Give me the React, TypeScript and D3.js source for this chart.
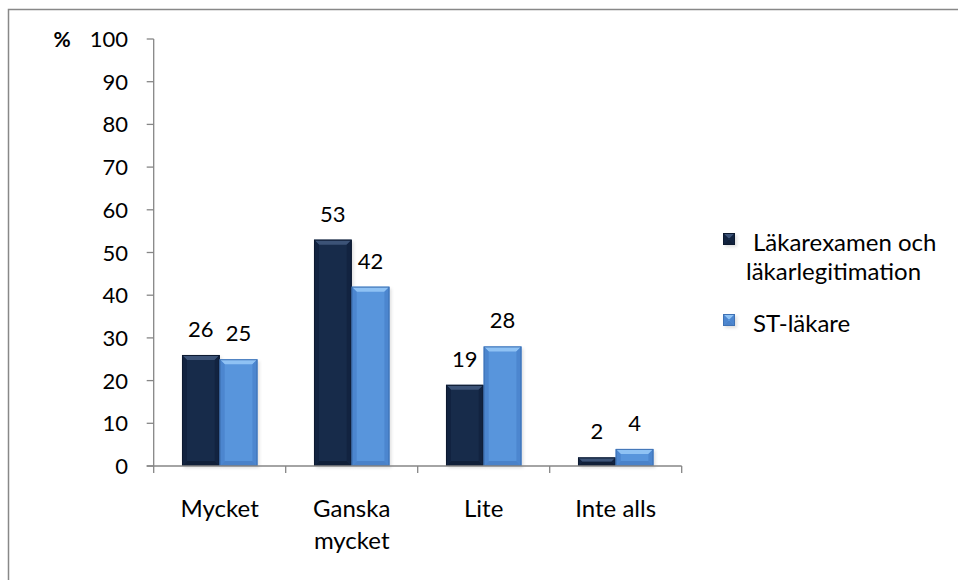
import React from "react";
import * as d3 from "d3";

// Survey answers, percent of respondents per group
const categories: string[][] = [["Mycket"], ["Ganska", "mycket"], ["Lite"], ["Inte alls"]];
const seriesNames = ["Läkarexamen och läkarlegitimation", "ST-läkare"];
const legendLines: string[][] = [["Läkarexamen och", "läkarlegitimation"], ["ST-läkare"]];
const examValues = [26, 53, 19, 2];
const stValues = [25, 42, 28, 4];
const yTicks = [0, 10, 20, 30, 40, 50, 60, 70, 80, 90, 100];

const W = 959;
const H = 580;
const FONT = "Lato, 'Open Sans', sans-serif";
const NUM_SIZE = 22;
const TEXT_SIZE = 24;

type Palette = { face: string; top: string; bottom: string; side: string; edge: string };
const palettes: Palette[] = [
  { face: "#172b4a", top: "#3c5377", bottom: "#101f38", side: "#122340", edge: "#0d1a30" },
  { face: "#5895dc", top: "#8fc2f4", bottom: "#4a82c9", side: "#4c86cf", edge: "#3f72b4" },
];

function BevelBar({ x, y, w, h, p }: { x: number; y: number; w: number; h: number; p: Palette }) {
  const b = Math.min(5, h / 2, w / 2);
  const x2 = x + w;
  const y2 = y + h;
  return (
    <g>
      <rect x={x + 2} y={y + 2} width={w} height={h} fill="rgba(0,0,0,0.12)" filter="url(#barShadow)" />
      <rect x={x} y={y} width={w} height={h} fill={p.face} />
      <polygon points={`${x},${y} ${x2},${y} ${x2 - b},${y + b} ${x + b},${y + b}`} fill={p.top} />
      <polygon points={`${x},${y2} ${x2},${y2} ${x2 - b},${y2 - b} ${x + b},${y2 - b}`} fill={p.bottom} />
      <polygon points={`${x},${y} ${x + b},${y + b} ${x + b},${y2 - b} ${x},${y2}`} fill={p.side} />
      <polygon points={`${x2},${y} ${x2 - b},${y + b} ${x2 - b},${y2 - b} ${x2},${y2}`} fill={p.side} />
      <rect x={x + 0.5} y={y + 0.5} width={w - 1} height={Math.max(0, h - 1)} fill="none" stroke={p.edge} strokeWidth={1} />
    </g>
  );
}

export default function App() {
  const plotLeft = 153.7;
  const plotRight = 681.7;
  const plotBottom = 466;
  const plotTop = 39;

  const y = d3.scaleLinear().domain([0, 100]).range([plotBottom, plotTop]);
  const x0 = d3
    .scaleBand<number>()
    .domain(categories.map((_, i) => i))
    .range([plotLeft, plotRight])
    .padding(0);
  const x1 = d3
    .scaleBand<number>()
    .domain([0, 1])
    .range([0, x0.bandwidth()])
    .paddingInner(0)
    .paddingOuter(0.75);

  const series = [examValues, stValues];
  const axisColor = "#868686";

  return (
    <svg width={W} height={H} style={{ position: "absolute", left: 0, top: 0 }} fontFamily={FONT}>
      <defs>
        <filter id="barShadow" x="-20%" y="-20%" width="140%" height="140%">
          <feGaussianBlur stdDeviation="1.5" />
        </filter>
      </defs>
      <rect x={0} y={0} width={W} height={H} fill="#fff" />
      {/* chart frame */}
      <path d={`M8.5,${H} V9.5 H${W - 1}`} fill="none" stroke="#888" strokeWidth={1.5} />

      {/* y axis */}
      <line x1={plotLeft} x2={plotLeft} y1={plotTop} y2={plotBottom} stroke={axisColor} strokeWidth={1.3} />
      {yTicks.map((t) => (
        <g key={t}>
          <line x1={plotLeft - 7} x2={plotLeft} y1={y(t)} y2={y(t)} stroke={axisColor} strokeWidth={1.3} />
          <text x={128} y={y(t) + 8} textAnchor="end" fontSize={NUM_SIZE} fill="#000">
            {t}
          </text>
        </g>
      ))}
      <text x={62} y={y(100) + 8} textAnchor="middle" fontSize={21} fontWeight="bold" fill="#000">
        %
      </text>

      {/* bars */}
      {categories.map((_, ci) =>
        series.map((vals, si) => {
          const bx = (x0(ci) ?? 0) + (x1(si) ?? 0);
          const by = y(vals[ci]);
          return (
            <BevelBar key={`${ci}-${si}`} x={bx} y={by} w={x1.bandwidth()} h={plotBottom - by} p={palettes[si]} />
          );
        })
      )}

      {/* x axis */}
      <line x1={plotLeft - 7} x2={plotRight} y1={plotBottom} y2={plotBottom} stroke={axisColor} strokeWidth={1.3} />
      {d3.range(categories.length + 1).map((i) => {
        const tx = plotLeft + i * x0.step();
        return <line key={i} x1={tx} x2={tx} y1={plotBottom} y2={plotBottom + 7} stroke={axisColor} strokeWidth={1.3} />;
      })}

      {/* value labels */}
      {categories.map((_, ci) =>
        series.map((vals, si) => {
          const cx = (x0(ci) ?? 0) + (x1(si) ?? 0) + x1.bandwidth() / 2;
          return (
            <text key={`l${ci}-${si}`} x={cx} y={y(vals[ci]) - 18} textAnchor="middle" fontSize={NUM_SIZE} fill="#000">
              {vals[ci]}
            </text>
          );
        })
      )}

      {/* category labels */}
      {categories.map((lines, ci) => {
        const cx = (x0(ci) ?? 0) + x0.bandwidth() / 2;
        return (
          <text key={`c${ci}`} x={cx} y={517} textAnchor="middle" fontSize={TEXT_SIZE} fill="#000">
            {lines.map((ln, li) => (
              <tspan key={li} x={cx} dy={li === 0 ? 0 : 32}>
                {ln}
              </tspan>
            ))}
          </text>
        );
      })}

      {/* legend */}
      {seriesNames.map((name, si) => {
        const top = si === 0 ? 233 : 314;
        const p = palettes[si];
        return (
          <g key={name}>
            <BevelBar x={723} y={top} w={12} h={12} p={p} />
            <text x={753} y={top + 18} fontSize={TEXT_SIZE} fill="#000">
              {legendLines[si].map((ln, li) => (
                <tspan key={li} x={li === 0 ? 753 : 746} dy={li === 0 ? 0 : 29}>
                  {ln}
                </tspan>
              ))}
            </text>
          </g>
        );
      })}
    </svg>
  );
}
